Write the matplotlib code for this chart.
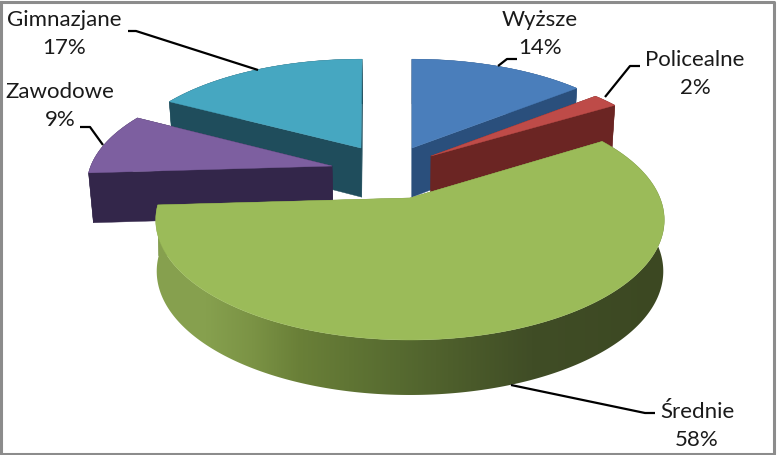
"""Exploded 3D pie of education levels, drawn by hand with a small perspective projection."""
import numpy as np
import matplotlib
matplotlib.use("Agg")
import matplotlib.pyplot as plt
from matplotlib.colors import LinearSegmentedColormap
from matplotlib.patches import Polygon

plt.rcParams["font.family"] = ["Lato", "DejaVu Sans"]

# clockwise from 12 o'clock, same order as the source chart
categories = ["Wyższe", "Policealne", "Średnie", "Zawodowe", "Gimnazjane"]
shares = [14, 2, 58, 9, 17]

top_colors = ["#4a7ebb", "#be4b48", "#9bbb59", "#7d5fa0", "#46a7c1"]
side_colors = ["#2a4f7c", "#6b2523", "#6f8a3c", "#33264a", "#1f4d5c"]

# how far each slice is pulled out: depth on the plane, then pixel shift x / y
plane_y = [0.3, 0.3, 0.0, 0.2, 0.3]
shift_x = [2, 21, 0, -78, -49]
shift_y = [-17, -9, 0, -9.6, -17]
wall_taper = [0.985, 0.985, 0.996, 0.985, 0.985]
draw_order = [4, 0, 3, 1, 2]

# label centre and leader line
label_pos = [(540, 34), (695, 74), (697, 426), (60, 106), (64, 34)]
leaders = [
    [(517, 59), (507, 59), (498, 66)],
    [(640, 66), (630, 66), (605, 97)],
    [(655, 413), (645, 413), (511, 385)],
    [(80, 127), (90, 127), (103, 145)],
    [(128, 31), (136, 31), (258, 70)],
]

CX, CY = 410.0, 198.0
RX, RY, PERSP = 250.0, 116.0, 0.183

green_wall = LinearSegmentedColormap.from_list(
    "green_wall",
    [(0.0, "#87a14f"), (0.1, "#86a04e"), (0.19, "#7b9345"), (0.28, "#6a8038"),
     (0.48, "#566a30"), (0.62, "#4a5a2a"), (0.74, "#404d26"), (1.0, "#3c4822")],
)


def project(x, y, dx, dy):
    """Pie plane -> pixel position of the top face."""
    w = 1 + PERSP * y
    return CX + RX * x / w + dx, CY - RY * y / w + dy


def lower(x, y, dx, dy, taper):
    """Pie plane -> pixel position of the bottom face."""
    px, py = project(x, y, dx, dy)
    return CX + (px - CX) * taper, py + 50.5 - 4.5 * y


def draw_slice(ax, a0, a1, y0, dx, dy, taper, top, side, zo, gradient=False):
    ang = np.radians(np.arange(a0, a1 + 0.5, 0.5))
    xs = np.sin(ang)
    ys = y0 + np.cos(ang)
    tx, ty = project(xs, ys, dx, dy)
    bx, by = lower(xs, ys, dx, dy, taper)
    ax0, ay0 = project(0.0, y0, dx, dy)
    bx0, by0 = lower(0.0, y0, dx, dy, taper)

    # radial walls
    for k in (0, -1):
        ax.fill([ax0, tx[k], bx[k], bx0], [ay0, ty[k], by[k], by0],
                color=side, lw=0.3, zorder=zo)

    # outer wall
    wall = np.c_[np.r_[tx, bx[::-1]], np.r_[ty, by[::-1]]]
    if gradient:
        patch = Polygon(wall, closed=True, fc="none", ec="none", transform=ax.transData)
        ax.add_patch(patch)
        grad = np.linspace(0, 1, 512)[None, :]
        im = ax.imshow(grad, cmap=green_wall, extent=(155, 665, 455, 0),
                       aspect="auto", zorder=zo, interpolation="bilinear")
        im.set_clip_path(patch)
    else:
        ax.fill(wall[:, 0], wall[:, 1], color=side, lw=0.3, zorder=zo)

    # top face
    ax.fill(np.r_[ax0, tx], np.r_[ay0, ty], color=top, lw=0.3, zorder=zo + 0.5)


fig = plt.figure(figsize=(7.77, 4.55), dpi=100)
ax = fig.add_axes([0, 0, 1, 1])
ax.axis("off")

edges = np.cumsum([0] + shares) / sum(shares) * 360
for zo, i in enumerate(draw_order, start=2):
    draw_slice(ax, edges[i], edges[i + 1], plane_y[i], shift_x[i], shift_y[i], wall_taper[i],
               top_colors[i], side_colors[i], zo, gradient=categories[i] == "Średnie")

for name, val, pos, line in zip(categories, shares, label_pos, leaders):
    ax.text(pos[0], pos[1], f"{name}\n{val}%", ha="center", va="center",
            fontsize=16, color="#1a1a1a", linespacing=1.5, zorder=30)
    ax.plot(*zip(*line), color="black", lw=1.6, zorder=20, solid_capstyle="butt")

# grey chart frame
ax.plot([1, 773.5, 773.5, 1, 1], [1.5, 1.5, 453.5, 453.5, 1.5], color="#8c8c8c", lw=2.2, zorder=40)

ax.set_xlim(0, 777)
ax.set_ylim(455, 0)

fig.savefig("out.png", dpi=100)
